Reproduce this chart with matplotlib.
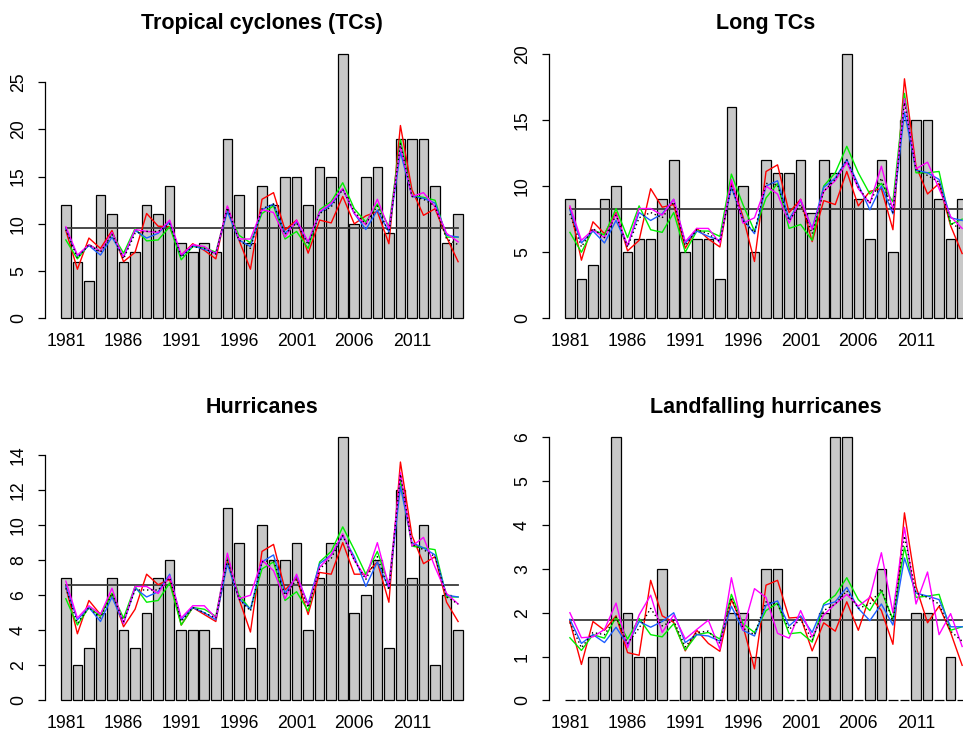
import numpy as np
import matplotlib
matplotlib.use("Agg")
import matplotlib.pyplot as plt

plt.rcParams['font.family'] = ['Liberation Sans', 'DejaVu Sans']

years = list(range(1981, 2016))
year_labels = [1981, 1986, 1991, 1996, 2001, 2006, 2011]

# --- Tropical cyclones (TCs) ---
tc_obs = [12, 6, 4, 13, 11, 6, 7, 12, 11, 14, 8, 7, 8, 7, 19, 13, 8, 14, 12, 15,
          15, 12, 16, 15, 28, 10, 15, 16, 9, 19, 19, 19, 14, 8, 11]
tc_ref = 9.6
tc_red = [9.3, 5.2, 8.5, 7.4, 9.3, 6.0, 7.0, 11.1, 9.75, 9.7, 6.7, 7.9, 7.2, 6.3, 11.8, 8.3, 5.2,
          12.6, 13.3, 9.35, 10.4, 6.9, 10.4, 10.1, 12.9, 10.0, 10.85, 11.3, 7.9, 20.4, 13.6, 10.9, 11.6, 8.6, 6.0]
tc_green = [8.3, 6.3, 7.8, 7.1, 9.0, 6.9, 9.5, 8.2, 8.3, 9.7, 6.2, 7.6, 7.5, 7.0, 11.6, 8.8, 8.0,
            11.1, 11.9, 8.4, 9.2, 7.4, 11.5, 12.35, 14.35, 11.6, 10.2, 12.1, 9.7, 18.9, 13.0, 12.8, 12.5, 8.6, 8.6]
tc_blue = [9.5, 6.6, 7.7, 6.7, 8.6, 6.5, 9.3, 8.5, 9.0, 10.2, 6.6, 7.7, 7.3, 6.9, 11.3, 8.3, 7.6,
           11.5, 12.1, 9.0, 10.2, 8.0, 11.2, 12.0, 13.7, 11.1, 9.4, 11.45, 9.15, 17.6, 12.9, 12.7, 12.2, 8.8, 8.6]
tc_magenta = [9.7, 6.7, 7.8, 7.1, 9.1, 6.5, 9.4, 9.2, 9.1, 10.4, 6.7, 7.8, 7.6, 6.8, 11.9, 8.4, 8.4,
              11.5, 11.2, 8.6, 10.4, 8.1, 11.3, 12.2, 13.75, 11.1, 9.9, 12.6, 9.5, 18.3, 12.9, 13.3, 11.8, 9.0, 8.1]
tc_black = [9.4, 6.4, 7.8, 7.0, 8.9, 6.3, 9.0, 9.2, 9.2, 10.0, 6.5, 7.6, 7.4, 6.8, 11.7, 8.3, 7.4,
            11.6, 12.1, 8.9, 10.1, 7.8, 11.1, 11.8, 13.65, 11.3, 10.0, 11.9, 9.0, 18.5, 12.9, 12.6, 11.9, 8.4, 7.8]

# --- Long TCs ---
long_obs = [9, 3, 4, 9, 10, 5, 6, 6, 9, 12, 5, 6, 6, 3, 16, 10, 5, 12, 11, 11,
            12, 8, 12, 11, 20, 9, 6, 12, 5, 15, 15, 15, 9, 6, 9]
long_ref = 8.3
long_red = [8.4, 4.4, 7.3, 6.4, 8.0, 5.1, 5.9, 9.8, 8.4, 8.6, 5.3, 6.8, 6.0, 5.4, 10.3, 7.7, 4.3,
            11.1, 11.6, 8.0, 9.0, 5.8, 8.9, 8.6, 11.1, 8.5, 9.6, 9.8, 6.7, 18.1, 11.5, 9.4, 10.2, 7.0, 4.9]
long_green = [6.5, 5.0, 6.7, 6.3, 8.3, 6.1, 8.5, 6.7, 6.5, 8.0, 5.0, 6.6, 6.6, 6.2, 10.9, 8.6, 6.6,
              9.1, 10.2, 6.8, 7.1, 5.9, 10.0, 11.0, 13.0, 11.0, 9.4, 10.2, 8.8, 17.0, 11.0, 11.0, 11.1, 7.1, 7.5]
long_blue = [8.2, 5.7, 6.6, 5.7, 7.4, 5.5, 8.0, 7.4, 7.9, 9.0, 5.7, 6.6, 6.2, 5.9, 9.9, 7.5, 6.4,
             10.0, 10.4, 7.5, 8.9, 6.8, 9.9, 10.6, 12.0, 10.1, 8.2, 10.0, 7.9, 15.6, 11.2, 11.0, 10.5, 7.6, 7.4]
long_magenta = [8.5, 5.9, 6.7, 6.1, 7.9, 5.5, 8.3, 8.3, 7.8, 9.0, 5.8, 6.8, 6.8, 5.7, 10.5, 7.2, 7.6,
                10.0, 9.4, 7.2, 9.0, 6.7, 9.6, 10.4, 11.8, 9.8, 8.7, 11.5, 8.2, 16.6, 11.3, 11.8, 9.8, 7.7, 6.8]
long_black = [7.9, 5.4, 6.8, 6.1, 7.8, 5.4, 7.6, 8.0, 7.6, 8.8, 5.5, 6.7, 6.4, 5.8, 10.0, 7.4, 6.5,
              10.2, 10.1, 7.4, 8.6, 6.4, 9.6, 10.5, 12.0, 9.9, 8.7, 10.6, 8.0, 16.3, 11.2, 10.8, 10.3, 7.2, 6.7]

# --- Hurricanes ---
hur_obs = [7, 2, 3, 5, 7, 4, 3, 5, 7, 8, 4, 4, 4, 3, 11, 9, 3, 10, 8, 8,
           9, 4, 7, 9, 15, 5, 6, 8, 3, 12, 7, 10, 2, 6, 4]
hur_ref = 6.6
hur_red = [6.5, 3.8, 5.7, 4.9, 6.1, 4.2, 5.2, 7.2, 6.6, 6.9, 4.3, 5.3, 4.9, 4.5, 8.0, 5.8, 3.9,
           8.5, 8.9, 6.3, 7.0, 4.9, 7.3, 7.2, 9.0, 7.2, 7.2, 7.9, 5.6, 13.6, 9.4, 7.8, 8.2, 5.6, 4.5]
hur_green = [5.8, 4.3, 5.3, 4.8, 6.1, 4.7, 6.5, 5.6, 5.7, 6.7, 4.3, 5.3, 5.2, 4.8, 8.2, 6.0, 5.2,
             7.5, 7.9, 5.7, 6.2, 5.1, 7.9, 8.5, 9.9, 8.6, 7.2, 8.5, 6.6, 12.6, 8.8, 8.7, 8.6, 5.9, 5.9]
hur_blue = [6.5, 4.6, 5.3, 4.5, 5.9, 4.4, 6.4, 5.9, 6.2, 7.2, 4.6, 5.3, 5.0, 4.6, 7.8, 5.8, 5.2,
            7.9, 8.3, 6.1, 7.1, 5.5, 7.8, 8.3, 9.4, 8.2, 6.5, 7.9, 6.4, 12.2, 9.0, 8.7, 8.3, 6.0, 5.9]
hur_magenta = [6.8, 4.7, 5.4, 4.9, 6.4, 4.4, 6.5, 6.5, 6.1, 7.1, 4.7, 5.4, 5.4, 4.7, 8.4, 5.8, 6.0,
               8.0, 7.4, 5.8, 7.2, 5.4, 7.6, 8.3, 9.5, 8.0, 7.0, 9.0, 6.5, 13.0, 8.8, 9.3, 7.6, 6.1, 5.5]
hur_black = [6.4, 4.4, 5.3, 4.7, 6.1, 4.5, 6.3, 6.3, 6.3, 7.0, 4.5, 5.3, 5.0, 4.7, 8.0, 5.8, 5.1,
             7.9, 8.0, 6.0, 6.9, 5.3, 7.5, 8.1, 9.4, 8.0, 6.9, 8.2, 6.3, 12.9, 8.9, 8.6, 8.2, 5.9, 5.5]

# --- Landfalling hurricanes ---
land_obs = [0, 0, 1, 1, 6, 2, 1, 1, 3, 0, 1, 1, 1, 0, 2, 2, 1, 3, 3, 0,
            0, 1, 2, 6, 6, 0, 1, 3, 0, 0, 2, 2, 0, 1, 0]
land_ref = 1.84
land_red = [1.8, 0.82, 1.8, 1.6, 1.93, 1.09, 1.03, 2.74, 1.93, 1.78, 1.13, 1.6, 1.3, 1.12, 2.3, 1.7, 0.72,
            2.63, 2.74, 1.88, 1.9, 1.13, 1.77, 1.58, 2.25, 1.6, 2.38, 2.05, 1.28, 4.28, 2.6, 1.77, 2.15, 1.55, 0.8]
land_green = [1.43, 1.14, 1.5, 1.42, 1.9, 1.4, 1.87, 1.5, 1.45, 1.75, 1.15, 1.5, 1.55, 1.4, 2.42, 1.75, 1.55,
              2.05, 2.22, 1.52, 1.55, 1.33, 2.2, 2.4, 2.8, 2.3, 2.05, 2.5, 1.85, 3.5, 2.35, 2.38, 2.42, 1.6, 1.68]
land_blue = [1.85, 1.3, 1.5, 1.32, 1.67, 1.27, 1.8, 1.67, 1.8, 2.0, 1.32, 1.5, 1.47, 1.35, 2.15, 1.6, 1.47,
             2.17, 2.27, 1.7, 1.93, 1.55, 2.17, 2.25, 2.58, 2.1, 1.82, 2.2, 1.72, 3.25, 2.45, 2.38, 2.3, 1.68, 1.68]
land_magenta = [2.0, 1.43, 1.45, 1.62, 2.22, 1.2, 1.95, 2.4, 1.55, 1.95, 1.4, 1.62, 1.83, 1.17, 2.8, 1.6, 2.55,
                2.35, 1.53, 1.42, 2.05, 1.45, 1.95, 2.2, 2.42, 2.15, 2.35, 3.37, 2.0, 3.95, 2.2, 2.93, 1.5, 1.98, 1.23]
land_black = [1.78, 1.2, 1.55, 1.5, 1.9, 1.3, 1.65, 2.1, 1.7, 1.82, 1.22, 1.55, 1.58, 1.3, 2.35, 1.65, 1.5,
              2.25, 2.2, 1.62, 1.85, 1.38, 2.05, 2.2, 2.5, 2.1, 2.2, 2.55, 1.8, 3.75, 2.45, 2.35, 2.2, 1.58, 1.35]

panels = [
    ("Tropical cyclones (TCs)", tc_obs, tc_ref, [tc_red, tc_green, tc_blue, tc_magenta, tc_black], np.arange(0, 26, 5)),
    ("Long TCs", long_obs, long_ref, [long_red, long_green, long_blue, long_magenta, long_black], np.arange(0, 21, 5)),
    ("Hurricanes", hur_obs, hur_ref, [hur_red, hur_green, hur_blue, hur_magenta, hur_black], np.arange(0, 15, 2)),
    ("Landfalling hurricanes", land_obs, land_ref, [land_red, land_green, land_blue, land_magenta, land_black], np.arange(0, 7, 1)),
]

line_colors = ['#ff0000', '#00ee00', '#1f5fff', '#ff00ff', 'black']
line_styles = ['-', '-', '-', '-', (0, (1, 2))]

# axes rectangles in figure fractions (R-like plot regions, right column runs off the edge)
rects = [
    [0.0467, 0.5499, 0.4507, 0.3912],
    [0.5701, 0.5499, 0.4507, 0.3912],
    [0.0467, 0.0275, 0.4507, 0.3884],
    [0.5701, 0.0275, 0.4507, 0.3884],
]

fig = plt.figure(figsize=(9.63, 7.31), dpi=100)

bar_w = 1 / 1.2
for (title, obs, ref, sims, yt), rect in zip(panels, rects):
    ax = fig.add_axes(rect)
    ax.bar(years, obs, width=bar_w, color='#c8c8c8', edgecolor='black', linewidth=0.9, zorder=1)
    ax.plot([years[0], years[-1]], [ref, ref], color='#3a3a3a', lw=1.3, zorder=2)
    for vals, c, ls in zip(sims, line_colors, line_styles):
        ax.plot(years, vals, color=c, linestyle=ls, lw=1.0, zorder=3)

    # R-style limits: 4% padding around the bars
    left = years[0] - bar_w / 2
    right = years[-1] + bar_w / 2
    pad = 0.04 * (right - left)
    ax.set_xlim(left - pad, right + pad)
    top = max(obs)
    ax.set_ylim(-0.04 * top, 1.04 * top)

    ax.set_yticks(yt)
    ax.set_yticklabels([str(v) for v in yt], rotation=90, va='center', fontsize=12.7)
    ax.set_xticks(year_labels)
    ax.set_xticklabels([str(y) for y in year_labels], fontsize=12.7)

    for s in ['top', 'right', 'bottom']:
        ax.spines[s].set_visible(False)
    ax.spines['left'].set_bounds(yt[0], yt[-1])
    ax.spines['left'].set_linewidth(0.9)
    ax.tick_params(axis='y', length=5, width=0.9, pad=8)
    ax.tick_params(axis='x', length=0, pad=3)

    ax.set_title(title, fontsize=15.5, fontweight='bold', pad=10)

fig.savefig('out.png', dpi=100)
